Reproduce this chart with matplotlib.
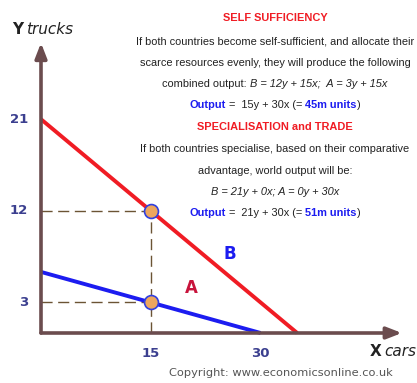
import matplotlib
matplotlib.use("Agg")
import matplotlib.pyplot as plt
from matplotlib.font_manager import fontManager

# ---- data ----
red_x = [0, 35]
red_y = [21, 0]
blue_x = [0, 30]
blue_y = [6, 0]
pts_x = [15, 15]
pts_y = [12, 3]
xticks = [15, 30]
yticks = [3, 12, 21]
xmax, ymax = 49.3, 28.5

names = {f.name for f in fontManager.ttflist}
NARROW = 'Liberation Sans Narrow' if 'Liberation Sans Narrow' in names else 'Liberation Sans'
FAM = [NARROW, 'DejaVu Sans']

W, H = 417, 383
fig = plt.figure(figsize=(W / 100, H / 100), dpi=100)
fig.patch.set_facecolor('white')
ox, oy = 41, 333
x_ppu, y_ppu = 7.32, 10.18
ax = fig.add_axes([ox / W, (H - oy) / H, xmax * x_ppu / W, ymax * y_ppu / H])
ax.set_xlim(0, xmax)
ax.set_ylim(0, ymax)
ax.axis('off')

AXC = '#6b4c4e'
TICKC = '#3b3f8f'
RED = '#f01c24'
BLUE = '#1c1cf0'
DASH = '#6b5434'

# dashed guides
for px, py in zip(pts_x, pts_y):
    ax.plot([0, px], [py, py], color=DASH, lw=1.0, dashes=(8, 4), zorder=2, clip_on=False)
ax.plot([pts_x[0], pts_x[0]], [0, max(pts_y)], color=DASH, lw=1.0, dashes=(8, 4), zorder=2, clip_on=False)

ax.plot(red_x, red_y, color=RED, lw=2.8, zorder=3, solid_capstyle='butt', clip_on=False)
ax.plot(blue_x, blue_y, color=BLUE, lw=2.8, zorder=3, solid_capstyle='butt', clip_on=False)
ax.plot(pts_x, pts_y, 'o', ms=10, mfc='#eda65e', mec='#3040e0', mew=1.2, zorder=5, clip_on=False)

# axes arrows
for tip in [(xmax, 0), (0, ymax)]:
    ax.annotate('', xy=tip, xytext=(0, 0), annotation_clip=False,
                arrowprops=dict(arrowstyle='-|>,head_length=0.9,head_width=0.35', color=AXC, lw=2.6,
                                shrinkA=0, shrinkB=0), zorder=6)

for t in yticks:
    ax.text(-1.8, t, str(t), ha='right', va='center', color=TICKC, fontsize=9.5,
            fontweight='bold', family='DejaVu Sans', clip_on=False)
for t in xticks:
    ax.text(t, -2.0, str(t), ha='center', va='center', color=TICKC, fontsize=9.5,
            fontweight='bold', family='DejaVu Sans', clip_on=False)

ax.text(20.5, 4.4, 'A', color='#c8143c', fontsize=12, fontweight='bold', ha='center', va='center',
        family='DejaVu Sans')
ax.text(25.8, 7.8, 'B', color=BLUE, fontsize=12, fontweight='bold', ha='center', va='center',
        family='DejaVu Sans')

# axis titles
fig.text(12 / W, 1 - 30 / H, 'Y', fontsize=11, fontweight='bold', color='#222222', va='center',
         family='DejaVu Sans')
fig.text(26 / W, 1 - 30 / H, 'trucks', fontsize=11, fontstyle='italic', color='#222222', va='center',
         family='DejaVu Sans')
fig.text(370 / W, 1 - 352 / H, 'X', fontsize=11, fontweight='bold', color='#222222', va='center',
         family='DejaVu Sans')
fig.text(384 / W, 1 - 352 / H, 'cars', fontsize=11, fontstyle='italic', color='#222222', va='center',
         family='DejaVu Sans')
fig.text(281 / W, 1 - 373 / H, 'Copyright: www.economicsonline.co.uk', fontsize=8.2, color='#555555',
         ha='center', va='center', family='DejaVu Sans')

# rich text block
renderer = fig.canvas.get_renderer()
BODY = dict(fontsize=7.9, color='#222222', family=FAM)
cx = 275
HEAD = dict(color=RED, fontweight='bold', fontsize=7.9)
BB = dict(color=BLUE, fontweight='bold')
IT = dict(fontstyle='italic')


def line(cy, pieces):
    texts, widths = [], []
    for s, kw, g in pieces:
        p = dict(BODY)
        p.update(kw)
        t = fig.text(0, 0, s, va='center', ha='left', transform=None, **p)
        texts.append(t)
        widths.append(t.get_window_extent(renderer).width)
    t1 = fig.text(0, 0, 'x x', transform=None, **BODY)
    t2 = fig.text(0, 0, 'xx', transform=None, **BODY)
    sp = t1.get_window_extent(renderer).width - t2.get_window_extent(renderer).width
    t1.remove(); t2.remove()
    gaps = [sp if g else 0 for (_, _, g) in pieces]
    total = sum(widths) + sum(gaps[1:])
    x = cx - total / 2
    for i, t in enumerate(texts):
        if i > 0:
            x += gaps[i]
        t.set_position((x, H - cy))
        x += widths[i]


line(18, [('SELF SUFFICIENCY', HEAD, True)])
line(42, [('If both countries become self-sufficient, and allocate their', {}, True)])
line(63, [('scarce resources evenly, they will produce the following', {}, True)])
line(84, [('combined output:', {}, True), ('B = 12y + 15x;  A = 3y + 15x', IT, True)])
line(105, [('Output', BB, True), ('=  15y + 30x (=', {}, True), ('45m units', BB, True), (')', {}, False)])
line(127, [('SPECIALISATION and TRADE', HEAD, True)])
line(149, [('If both countries specialise, based on their comparative', {}, True)])
line(171, [('advantage, world output will be:', {}, True)])
line(192, [('B = 21y + 0x; A = 0y + 30x', IT, True)])
line(213, [('Output', BB, True), ('=  21y + 30x (=', {}, True), ('51m units', BB, True), (')', {}, False)])

fig.savefig('out.png', dpi=100, facecolor='white')
